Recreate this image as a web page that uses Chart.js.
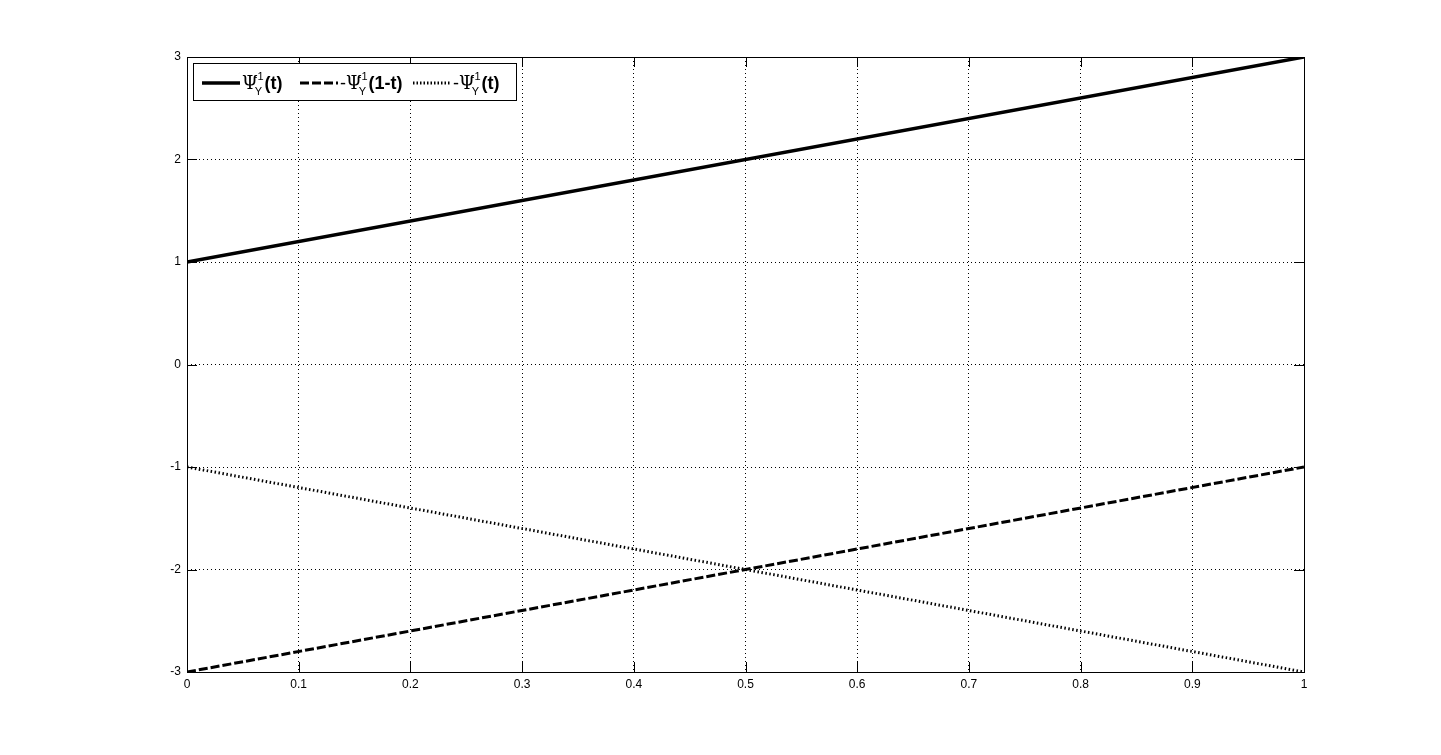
<!DOCTYPE html>
<html>
<head>
<meta charset="utf-8">
<script src="https://cdn.jsdelivr.net/npm/chart.js@4"></script>
<style>
  html, body { margin: 0; padding: 0; background: #fff; }
  #wrap { width: 1441px; height: 755px; }
</style>
</head>
<body>
<div id="wrap"><canvas id="psiChart"></canvas></div>
<script>
// t values and the three curves
var tValues = [0, 1];
var psiInv = [1, 3];
var negPsiInvOneMinus = [-3, -1];
var negPsiInv = [-1, -3];

var xTicks = [0, 0.1, 0.2, 0.3, 0.4, 0.5, 0.6, 0.7, 0.8, 0.9, 1];
var yTicks = [-3, -2, -1, 0, 1, 2, 3];

var legendItems = [
    { prefix: '', suffix: '(t)', dash: [], width: 3.5 },
    { prefix: '-', suffix: '(1-t)', dash: [9, 3], width: 3 },
    { prefix: '-', suffix: '(t)', dash: [1.5, 2], width: 3 }
];

function toPoints(ys) {
    return tValues.map(function (t, i) { return { x: t, y: ys[i] }; });
}

/**
 * Box, inward ticks and legend drawn like a MATLAB figure
 */
var matlabFrame = {
    id: 'matlabFrame',
    afterDraw: function (chart) {
        var ctx = chart.ctx;
        var a = chart.chartArea;
        var xs = chart.scales.x, ys = chart.scales.y;
        ctx.save();
        ctx.strokeStyle = '#000';
        ctx.lineWidth = 1;
        ctx.setLineDash([]);
        ctx.strokeRect(a.left + 0.5, a.top + 0.5, a.right - a.left, a.bottom - a.top);
        ctx.beginPath();
        xTicks.forEach(function (v) {
            var px = Math.round(xs.getPixelForValue(v)) + 0.5;
            ctx.moveTo(px, a.bottom); ctx.lineTo(px, a.bottom - 10);
            ctx.moveTo(px, a.top); ctx.lineTo(px, a.top + 10);
        });
        yTicks.forEach(function (v) {
            var py = Math.round(ys.getPixelForValue(v)) + 0.5;
            ctx.moveTo(a.left, py); ctx.lineTo(a.left + 10, py);
            ctx.moveTo(a.right, py); ctx.lineTo(a.right - 10, py);
        });
        ctx.stroke();

        // legend
        var bx = 193, by = 63, bw = 323, bh = 37;
        ctx.fillStyle = '#fff';
        ctx.fillRect(bx, by, bw, bh);
        ctx.strokeRect(bx + 0.5, by + 0.5, bw, bh);
        var lineY = 83;
        var starts = [202, 300, 413];
        ctx.fillStyle = '#000';
        ctx.textBaseline = 'alphabetic';
        legendItems.forEach(function (item, i) {
            var x = starts[i];
            ctx.beginPath();
            ctx.lineWidth = item.width;
            ctx.setLineDash(item.dash);
            ctx.moveTo(x, lineY); ctx.lineTo(x + 38, lineY);
            ctx.stroke();
            ctx.setLineDash([]);
            x += 40;
            ctx.font = '18px "Liberation Sans", Arial, sans-serif';
            ctx.fillText(item.prefix, x, lineY + 6);
            x += ctx.measureText(item.prefix).width;
            ctx.font = '18px "DejaVu Serif", serif';
            ctx.fillText('\u03A8', x, lineY + 6);
            var psiW = ctx.measureText('\u03A8').width;
            ctx.font = '11px "Liberation Sans", Arial, sans-serif';
            ctx.fillText('Y', x + psiW - 3, lineY + 12);
            ctx.fillText('-1', x + psiW - 4, lineY - 3);
            x += psiW + ctx.measureText('-1').width - 3;
            ctx.font = 'bold 18px "Liberation Sans", Arial, sans-serif';
            ctx.fillText(item.suffix, x, lineY + 6);
        });
        ctx.restore();
    }
};

var ctxPsi = document.getElementById('psiChart');
var psiChart = new Chart(ctxPsi, {
    type: 'line',
    data: {
        datasets: [{
            label: 'psi',
            data: toPoints(psiInv),
            borderColor: '#000',
            borderWidth: 3.5,
            pointRadius: 0
        }, {
            label: 'neg psi 1-t',
            data: toPoints(negPsiInvOneMinus),
            borderColor: '#000',
            borderWidth: 3,
            borderDash: [9, 3],
            pointRadius: 0
        }, {
            label: 'neg psi',
            data: toPoints(negPsiInv),
            borderColor: '#000',
            borderWidth: 3,
            borderDash: [1.5, 2.5],
            pointRadius: 0
        }]
    },
    options: {
        responsive: true,
        maintainAspectRatio: false,
        animation: false,
        layout: { padding: { left: 0, top: 57, right: 137, bottom: 0 } },
        plugins: {
            legend: { display: false },
            tooltip: { enabled: false }
        },
        scales: {
            x: {
                type: 'linear',
                min: 0,
                max: 1,
                afterFit: function (s) { s.height = 83; },
                afterBuildTicks: function (s) { s.ticks = xTicks.map(function (v) { return { value: v }; }); },
                ticks: {
                    padding: 5,
                    color: '#000',
                    maxRotation: 0,
                    font: { family: '"Liberation Sans", Arial, sans-serif', size: 12 },
                    callback: function (v) { return String(+v.toFixed(1)); }
                },
                grid: { color: '#000', lineWidth: 1, drawTicks: false },
                border: { display: false, dash: [1, 3] }
            },
            y: {
                min: -3,
                max: 3,
                afterFit: function (s) { s.width = 187; },
                afterBuildTicks: function (s) { s.ticks = yTicks.map(function (v) { return { value: v }; }); },
                ticks: {
                    padding: 6,
                    color: '#000',
                    font: { family: '"Liberation Sans", Arial, sans-serif', size: 12 }
                },
                grid: { color: '#000', lineWidth: 1, drawTicks: false },
                border: { display: false, dash: [1, 3] }
            }
        }
    },
    plugins: [matlabFrame]
});
</script>
</body>
</html>
